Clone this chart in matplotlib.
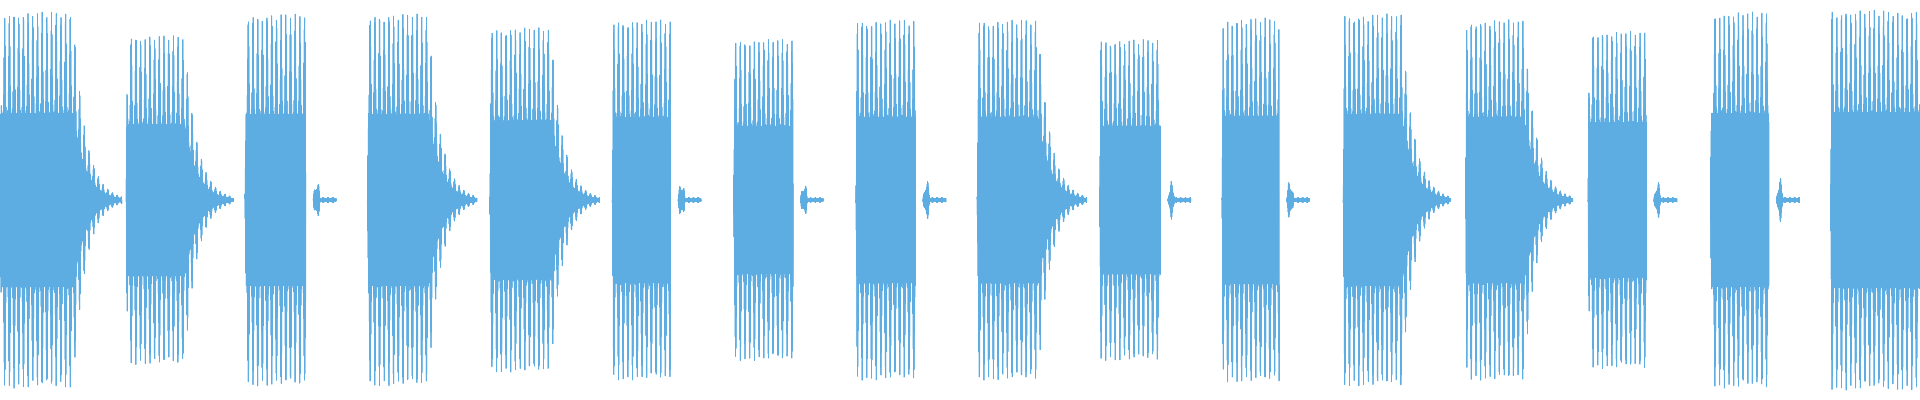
import matplotlib
matplotlib.use('Agg')
import matplotlib.pyplot as plt
import numpy as np

# burst layout, in units of one burst slot (~122 px)
burst_start = [0.0, 1.035, 2.01, 3.015, 4.02, 5.025, 6.02, 7.025, 8.02, 9.025, 10.03, 11.025, 12.03, 13.035, 14.04, 15.025]
burst_len = [0.60, 0.48, 0.50, 0.50, 0.50, 0.48, 0.49, 0.49, 0.50, 0.50, 0.47, 0.48, 0.48, 0.48, 0.48, 0.80]
burst_amp = [0.96, 0.84, 0.95, 0.95, 0.88, 0.92, 0.82, 0.92, 0.92, 0.82, 0.93, 0.95, 0.92, 0.86, 0.96, 0.97]
# 'd' = smooth decay tail, 'b' = abrupt stop followed by a small blip
burst_end = ['d', 'd', 'b', 'd', 'd', 'b', 'b', 'b', 'd', 'b', 'b', 'd', 'd', 'b', 'b', 'd']
color = '#5DADE2'

t = np.linspace(0, 15.76, 60000)
env = np.zeros_like(t)
for s, L, a, kind in zip(burst_start, burst_len, burst_amp, burst_end):
    rel = t - s
    on = (rel >= 0) & (rel < L)
    env[on] = np.maximum(env[on], a * np.minimum(1, rel[on] / 0.01))
    after = rel - L
    if kind == 'd':
        m = (after >= 0) & (after < 0.40)
        env[m] = np.maximum(env[m], a * np.exp(-after[m] / 0.1))
    else:
        m = (after >= 0.06) & (after < 0.12)
        env[m] = np.maximum(env[m], 0.12 * a * np.sin(np.pi * (after[m] - 0.06) / 0.06))
        m2 = (after >= 0.12) & (after < 0.25)
        env[m2] = np.maximum(env[m2], 0.015 * a)

shape = 0.46 + 0.54 * np.abs(np.cos(np.pi * 26 * t)) ** 6
sig = env * np.sin(2 * np.pi * 310 * t) * shape
sig[env <= 0] = np.nan  # silence: nothing drawn

fig = plt.figure(figsize=(19.2, 4.0), dpi=100)
ax = fig.add_axes([0, 0, 1, 1])
ax.plot(t, sig, color=color, linewidth=0.6)
ax.set_xlim(0, 15.76)
ax.set_ylim(-1.02, 1.02)
ax.axis('off')
fig.savefig('out.png', dpi=100, facecolor='white')
